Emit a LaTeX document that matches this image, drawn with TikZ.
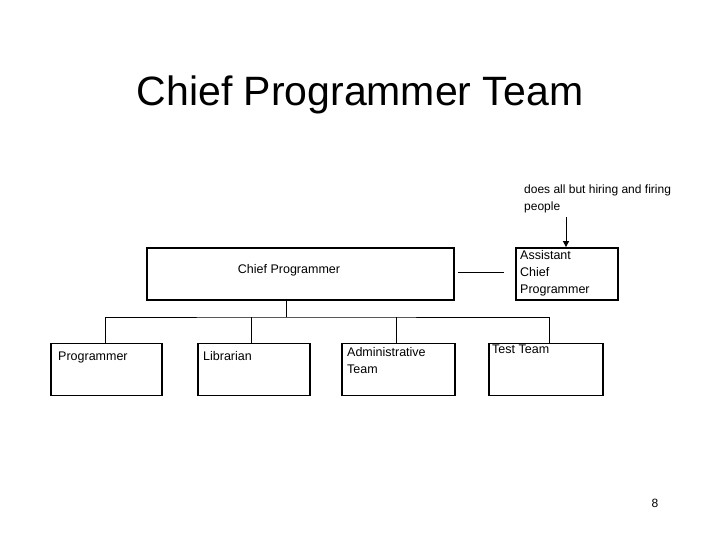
\documentclass[tikz,border=0pt]{standalone}
\usepackage{fontspec}
\setmainfont{Liberation Sans}
\usetikzlibrary{arrows.meta}
\begin{document}
\begin{tikzpicture}[x=1pt,y=-1pt,
  box/.style={draw,line width=1.8pt,minimum height=52pt,inner sep=0pt},
  lbl/.style={anchor=north west,inner sep=0pt,font=\fontsize{12.5}{17}\selectfont,align=left},
  ln/.style={line width=0.8pt}]
\useasboundingbox (0,0) rectangle (720,540);
\node (title) at (360,95) {\fontsize{41}{48}\selectfont Chief Programmer Team};
\node[box,minimum width=307pt] (cp) at (300.5,274) {};
\node[font=\fontsize{12.5}{15}\selectfont] (cpt) at (289,270) {Chief Programmer};
\node[box,minimum width=102pt] (acp) at (567,274) {};
\node[lbl] (acpt) at (520,250) {Assistant\\Chief\\Programmer};
\node[lbl,font=\fontsize{12}{17}\selectfont] (note) at (524,185) {does all but hiring and firing\\people};
\coordinate (na) at (566,217);
\draw[ln,-{Triangle[length=6pt,width=6pt]}] (na) -- (acp.north -| na);
\coordinate (l1) at (458,272); \coordinate (l2) at (504,272);
\draw[ln] (l1) -- (l2);
\node[box,minimum width=111pt] (p) at (106.5,369.5) {};
\node[box,minimum width=112pt] (l) at (254,369.5) {};
\node[box,minimum width=113pt] (a) at (398.5,369.5) {};
\node[box,minimum width=114pt] (t) at (546,369.5) {};
\node[anchor=west,inner sep=0pt,font=\fontsize{12.5}{15}\selectfont] (pt) at (58,357) {Programmer};
\node[anchor=west,inner sep=0pt,font=\fontsize{12.5}{15}\selectfont] (lt) at (203,356) {Librarian};
\node[lbl] (at) at (347,347) {Administrative\\Team};
\node[lbl] (tt) at (492,345) {Test Team};
\coordinate (bus) at (286,317);
\draw[ln] (cp.south -| bus) -- (bus);
\draw[ln] (p.north -| 105,0) |- (bus) -| (t.north -| 549,0);
\draw[ln] (l.north -| 251,0) -- (251,317);
\draw[ln] (a.north -| 396,0) -- (396,317);
\node[font=\fontsize{12}{14}\selectfont] (pg) at (655,503) {8};
\end{tikzpicture}
\end{document}
